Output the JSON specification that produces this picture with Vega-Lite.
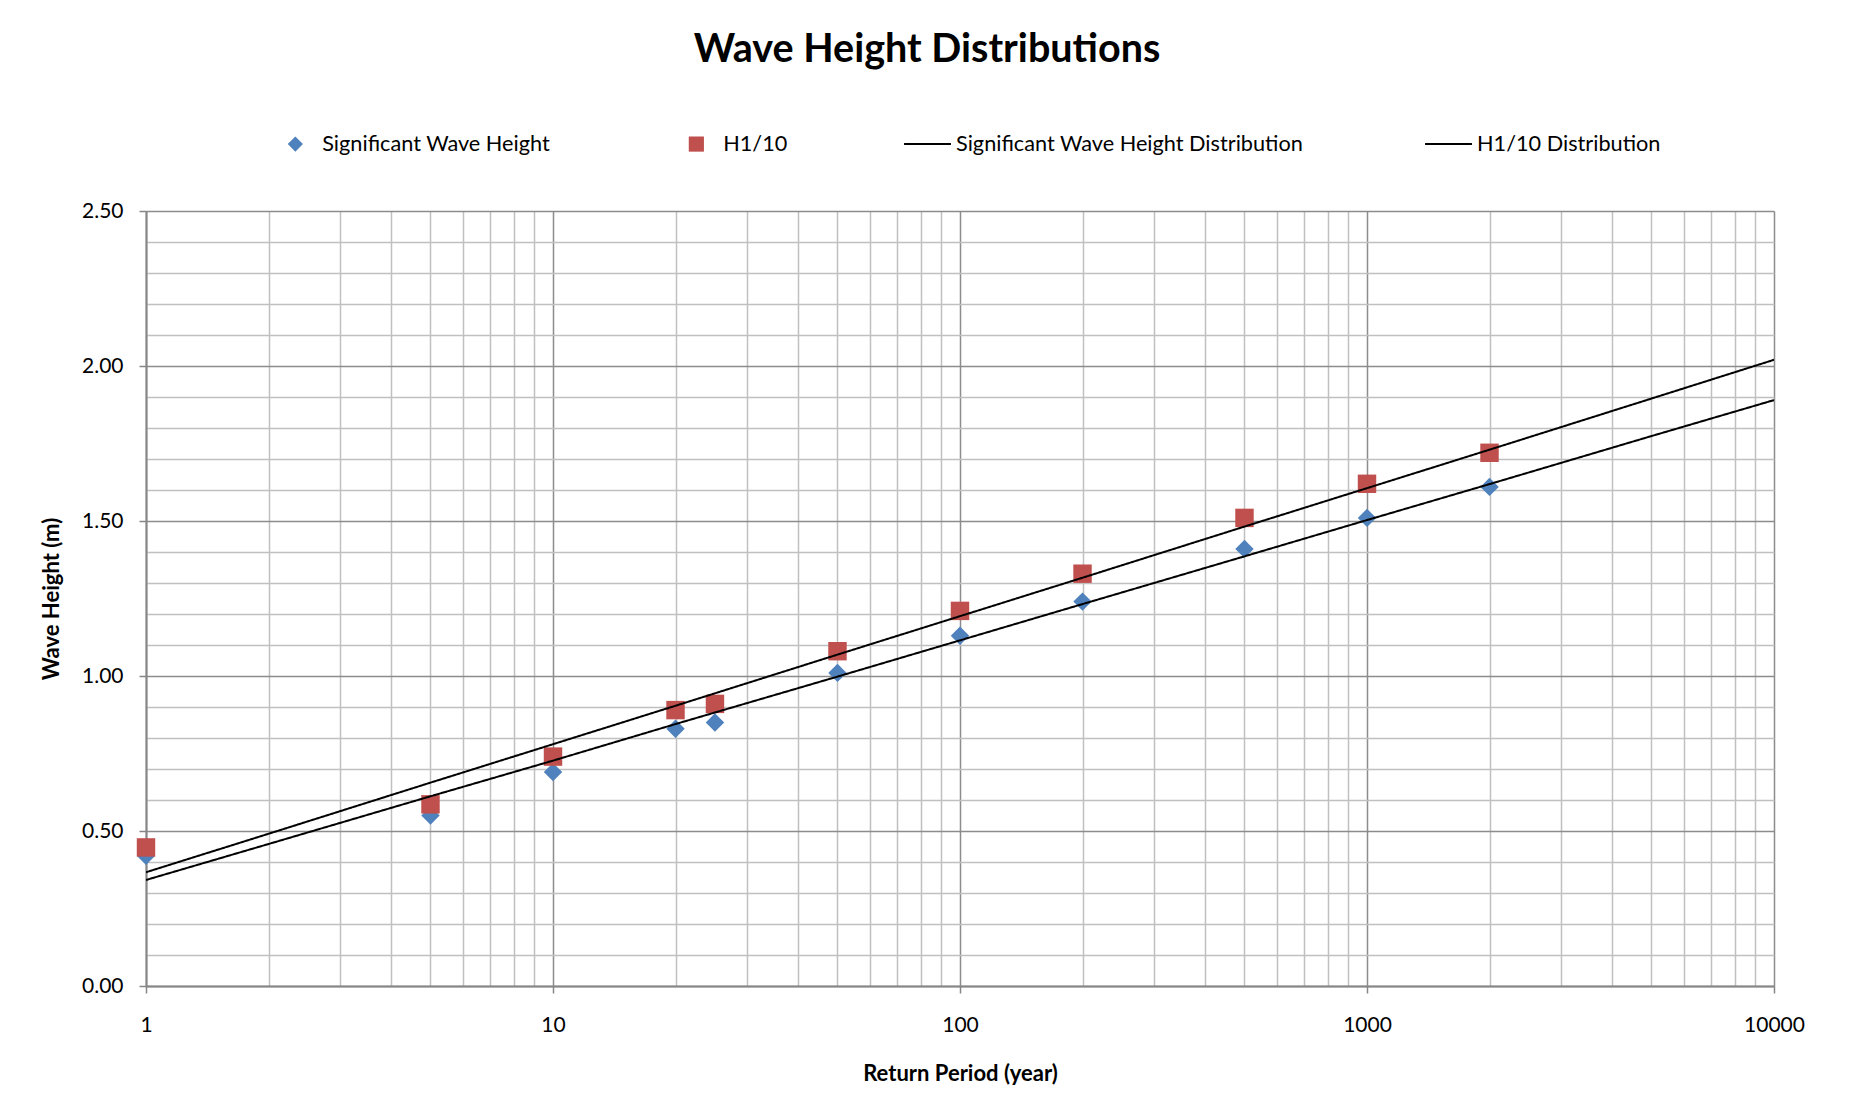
{
  "$schema": "https://vega.github.io/schema/vega-lite/v6.json",
  "autosize": {"type": "none"},
  "width": 1628,
  "height": 775,
  "padding": {"left": 146, "top": 211, "right": 78, "bottom": 126},
  "background": "white",
  "title": {
    "text": "Wave Height Distributions",
    "font": "Lato",
    "fontSize": 39.5,
    "fontWeight": "bold",
    "color": "black",
    "anchor": "middle",
    "dx": -33,
    "offset": 49
  },
  "config": {
    "view": {"stroke": null},
    "font": "Lato"
  },
  "data": {
    "values": [
      {"T": 1, "H": 0.42, "series": "Significant Wave Height"},
      {"T": 5, "H": 0.55, "series": "Significant Wave Height"},
      {"T": 10, "H": 0.69, "series": "Significant Wave Height"},
      {"T": 20, "H": 0.83, "series": "Significant Wave Height"},
      {"T": 25, "H": 0.85, "series": "Significant Wave Height"},
      {"T": 50, "H": 1.01, "series": "Significant Wave Height"},
      {"T": 100, "H": 1.13, "series": "Significant Wave Height"},
      {"T": 200, "H": 1.24, "series": "Significant Wave Height"},
      {"T": 500, "H": 1.41, "series": "Significant Wave Height"},
      {"T": 1000, "H": 1.51, "series": "Significant Wave Height"},
      {"T": 2000, "H": 1.61, "series": "Significant Wave Height"},
      {"T": 1, "H": 0.447, "series": "H1/10"},
      {"T": 5, "H": 0.586, "series": "H1/10"},
      {"T": 10, "H": 0.74, "series": "H1/10"},
      {"T": 20, "H": 0.89, "series": "H1/10"},
      {"T": 25, "H": 0.91, "series": "H1/10"},
      {"T": 50, "H": 1.08, "series": "H1/10"},
      {"T": 100, "H": 1.21, "series": "H1/10"},
      {"T": 200, "H": 1.33, "series": "H1/10"},
      {"T": 500, "H": 1.51, "series": "H1/10"},
      {"T": 1000, "H": 1.62, "series": "H1/10"},
      {"T": 2000, "H": 1.72, "series": "H1/10"},
      {"T": 1, "H": 0.342, "series": "Significant Wave Height Distribution"},
      {"T": 2, "H": 0.458, "series": "Significant Wave Height Distribution"},
      {"T": 5, "H": 0.612, "series": "Significant Wave Height Distribution"},
      {"T": 10, "H": 0.727, "series": "Significant Wave Height Distribution"},
      {"T": 20, "H": 0.845, "series": "Significant Wave Height Distribution"},
      {"T": 50, "H": 0.998, "series": "Significant Wave Height Distribution"},
      {"T": 100, "H": 1.115, "series": "Significant Wave Height Distribution"},
      {"T": 200, "H": 1.232, "series": "Significant Wave Height Distribution"},
      {"T": 500, "H": 1.386, "series": "Significant Wave Height Distribution"},
      {"T": 1000, "H": 1.503, "series": "Significant Wave Height Distribution"},
      {"T": 2000, "H": 1.619, "series": "Significant Wave Height Distribution"},
      {"T": 5000, "H": 1.774, "series": "Significant Wave Height Distribution"},
      {"T": 10000, "H": 1.89, "series": "Significant Wave Height Distribution"},
      {"T": 1, "H": 0.367, "series": "H1/10 Distribution"},
      {"T": 2, "H": 0.491, "series": "H1/10 Distribution"},
      {"T": 5, "H": 0.656, "series": "H1/10 Distribution"},
      {"T": 10, "H": 0.780, "series": "H1/10 Distribution"},
      {"T": 20, "H": 0.904, "series": "H1/10 Distribution"},
      {"T": 50, "H": 1.069, "series": "H1/10 Distribution"},
      {"T": 100, "H": 1.193, "series": "H1/10 Distribution"},
      {"T": 200, "H": 1.317, "series": "H1/10 Distribution"},
      {"T": 500, "H": 1.482, "series": "H1/10 Distribution"},
      {"T": 1000, "H": 1.606, "series": "H1/10 Distribution"},
      {"T": 2000, "H": 1.730, "series": "H1/10 Distribution"},
      {"T": 5000, "H": 1.895, "series": "H1/10 Distribution"},
      {"T": 10000, "H": 2.02, "series": "H1/10 Distribution"}
    ]
  },
  "encoding": {
    "x": {
      "field": "T",
      "type": "quantitative",
      "scale": {"type": "log", "domain": [1, 10000], "nice": false},
      "axis": {
        "title": "Return Period (year)",
        "titleFont": "Lato",
        "titleFontSize": 22,
        "titleFontWeight": "bold",
        "titleColor": "black",
        "titlePadding": 28,
        "values": [1,2,3,4,5,6,7,8,9,10,20,30,40,50,60,70,80,90,100,200,300,400,500,600,700,800,900,1000,2000,3000,4000,5000,6000,7000,8000,9000,10000],
        "labelExpr": "indexof([1,10,100,1000,10000], datum.value) >= 0 ? '' + datum.value : ''",
        "labelFont": "Lato",
        "labelFontSize": 21,
        "labelColor": "black",
        "labelPadding": 21,
        "labelFlush": false,
        "labelOverlap": false,
        "tickSize": 7,
        "tickWidth": 1.5,
        "tickColor": {"condition": {"test": "indexof([1,10,100,1000,10000], datum.value) >= 0", "value": "#868686"}, "value": "transparent"},
        "domainColor": "#868686",
        "domainWidth": 2,
        "grid": true,
        "gridWidth": 1.5,
        "gridColor": {"condition": {"test": "indexof([1,10,100,1000,10000], datum.value) >= 0", "value": "#8c8c8c"}, "value": "#c0c0c0"}
      }
    },
    "y": {
      "field": "H",
      "type": "quantitative",
      "scale": {"domain": [0, 2.5], "nice": false, "zero": true},
      "axis": {
        "title": "Wave Height (m)",
        "titleFont": "Lato",
        "titleFontSize": 22,
        "titleFontWeight": "bold",
        "titleColor": "black",
        "titlePadding": 18,
        "values": [0,0.1,0.2,0.3,0.4,0.5,0.6,0.7,0.8,0.9,1,1.1,1.2,1.3,1.4,1.5,1.6,1.7,1.8,1.9,2,2.1,2.2,2.3,2.4,2.5],
        "labelExpr": "round(datum.value*10) % 5 == 0 ? format(datum.value, '.2f') : ''",
        "labelFont": "Lato",
        "labelFontSize": 21,
        "labelColor": "black",
        "labelPadding": 16,
        "labelOverlap": false,
        "tickSize": 7,
        "tickWidth": 1.5,
        "tickColor": {"condition": {"test": "round(datum.value*10) % 5 == 0", "value": "#868686"}, "value": "transparent"},
        "domainColor": "#868686",
        "domainWidth": 2,
        "grid": true,
        "gridWidth": 1.5,
        "gridColor": {"condition": {"test": "round(datum.value*10) % 5 == 0", "value": "#8c8c8c"}, "value": "#c0c0c0"}
      }
    }
  },
  "layer": [
    {
      "transform": [{"filter": "indexof(['Significant Wave Height','H1/10'], datum.series) >= 0"}],
      "mark": {"type": "point", "filled": true, "opacity": 1, "size": 340, "clip": false},
      "encoding": {
        "color": {
          "field": "series",
          "type": "nominal",
          "scale": {
            "domain": ["Significant Wave Height", "H1/10"],
            "range": ["#4F81BD", "#C0504D"]
          },
          "legend": {
            "title": null,
            "orient": "none",
            "direction": "horizontal",
            "legendX": 138.5,
            "legendY": -78,
            "columnPadding": 135,
            "labelFont": "Lato",
            "labelFontSize": 21.7,
            "labelColor": "black",
            "labelOffset": 16,
            "labelLimit": 0,
            "symbolSize": 230,
            "symbolOpacity": 1,
            "symbolStrokeWidth": 0
          }
        },
        "shape": {
          "field": "series",
          "type": "nominal",
          "scale": {
            "domain": ["Significant Wave Height", "H1/10"],
            "range": ["diamond", "square"]
          },
          "legend": {
            "title": null,
            "orient": "none",
            "direction": "horizontal",
            "legendX": 138.5,
            "legendY": -78,
            "columnPadding": 135,
            "labelFont": "Lato",
            "labelFontSize": 21.7,
            "labelColor": "black",
            "labelOffset": 16,
            "labelLimit": 0,
            "symbolSize": 230,
            "symbolOpacity": 1,
            "symbolStrokeWidth": 0
          }
        }
      }
    },
    {
      "transform": [{"filter": "indexof(['Significant Wave Height Distribution','H1/10 Distribution'], datum.series) >= 0"}],
      "mark": {"type": "line", "strokeWidth": 2, "color": "black", "clip": true},
      "encoding": {
        "strokeDash": {
          "field": "series",
          "type": "nominal",
          "scale": {
            "domain": ["Significant Wave Height Distribution", "H1/10 Distribution"],
            "range": [[1, 0], [1, 0]]
          },
          "legend": {
            "title": null,
            "orient": "none",
            "direction": "horizontal",
            "legendX": 757,
            "legendY": -92,
            "columnPadding": 117,
            "labelFont": "Lato",
            "labelFontSize": 21.7,
            "labelColor": "black",
            "labelOffset": 4,
            "labelLimit": 0,
            "symbolType": "stroke",
            "symbolSize": 2200,
            "symbolStrokeColor": "black",
            "symbolStrokeWidth": 2,
            "symbolOpacity": 1
          }
        }
      }
    }
  ]
}
